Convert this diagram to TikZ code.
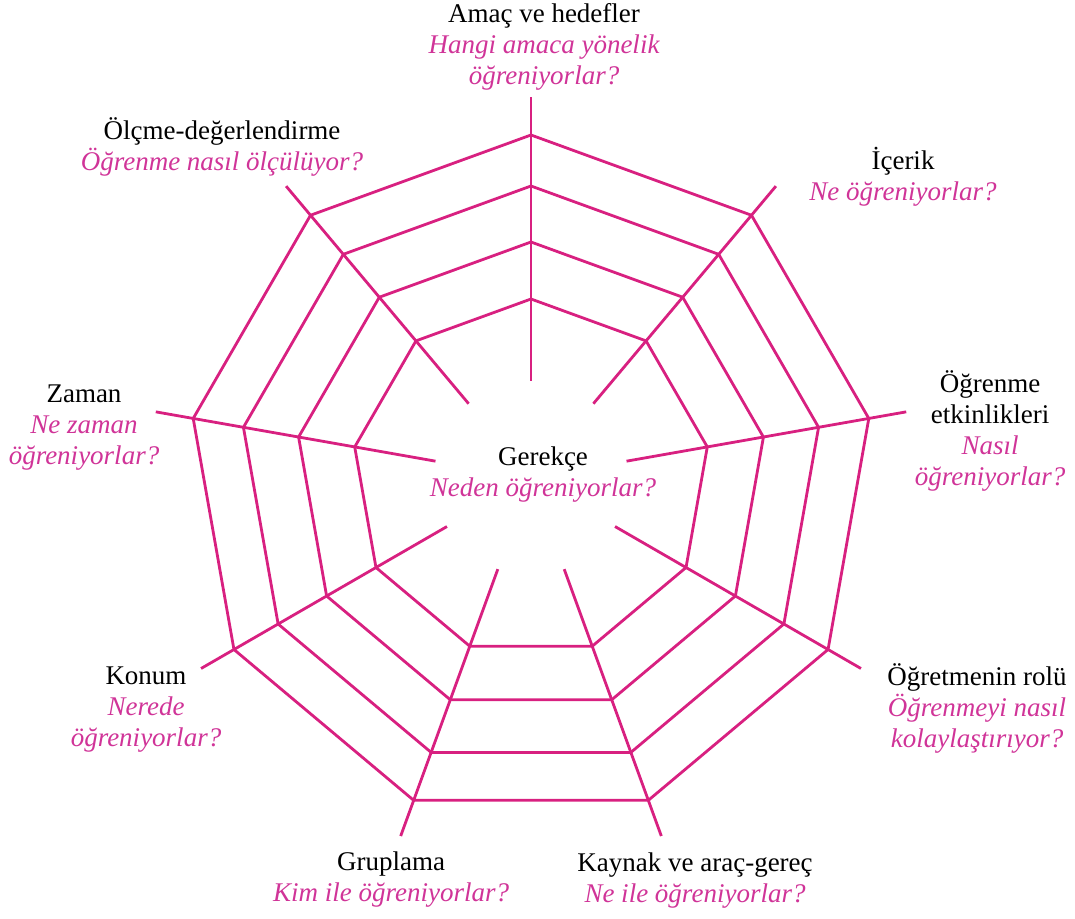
\documentclass[tikz,border=0pt]{standalone}
\usepackage{fontspec}
\setmainfont{Liberation Serif}
\usetikzlibrary{calc}
\definecolor{webpink}{RGB}{216,32,128}
\definecolor{textpink}{RGB}{208,52,152}
\tikzset{
  web/.style={draw=webpink, line width=2.8pt, line join=miter, line cap=butt},
  lbl/.style={align=center, inner sep=0pt, font=\fontsize{27}{31}\selectfont, text=black},
}
\newcommand{\qq}[1]{\textcolor{textpink}{\itshape #1}}
\begin{document}
\begin{tikzpicture}[x=1pt,y=-1pt]
\useasboundingbox (0,0) rectangle (1075,918);
\coordinate (C) at (531,478);
% vertices
\foreach \k in {0,...,8}{
  \pgfmathsetmacro{\ang}{90-40*\k}
  \coordinate (a\k) at ($(C)+(\ang:343pt)$);
  \coordinate (b\k) at ($(C)+(\ang:292pt)$);
  \coordinate (c\k) at ($(C)+(\ang:236pt)$);
  \coordinate (d\k) at ($(C)+(\ang:179pt)$);
  \coordinate (so\k) at ($(C)+(\ang:381pt)$);
  \coordinate (si\k) at ($(C)+(\ang:97pt)$);
}
% rings
\foreach \r in {a,b,c,d}{
  \draw[web] (\r0) -- (\r1) -- (\r2) -- (\r3) -- (\r4) -- (\r5) -- (\r6) -- (\r7) -- (\r8) -- cycle;
}
% spokes
\foreach \k in {0,...,8}{
  \draw[web] (so\k) -- (si\k);
}
% labels
\node[lbl] (amac) at (544,47) {Amaç ve hedefler\\\qq{Hangi amaca yönelik}\\\qq{öğreniyorlar?}};
\node[lbl] (olcme) at (222,147) {Ölçme-değerlendirme\\\qq{Öğrenme nasıl ölçülüyor?}};
\node[lbl] (icerik) at (903,177) {İçerik\\\qq{Ne öğreniyorlar?}};
\node[lbl] (ogrenme) at (990,431) {Öğrenme\\etkinlikleri\\\qq{Nasıl}\\\qq{öğreniyorlar?}};
\node[lbl] (ogretmen) at (977,708) {Öğretmenin rolü\\\qq{Öğrenmeyi nasıl}\\\qq{kolaylaştırıyor?}};
\node[lbl] (kaynak) at (695,881) {Kaynak ve araç-gereç\\\qq{Ne ile öğreniyorlar?}};
\node[lbl] (gruplama) at (391,880) {Gruplama\\\qq{Kim ile öğreniyorlar?}};
\node[lbl] (konum) at (146,710) {Konum\\\qq{Nerede}\\\qq{öğreniyorlar?}};
\node[lbl] (zaman) at (84,428) {Zaman\\\qq{Ne zaman}\\\qq{öğreniyorlar?}};
\node[lbl] (gerekce) at (543,475) {Gerekçe\\\qq{Neden öğreniyorlar?}};
\end{tikzpicture}
\end{document}
